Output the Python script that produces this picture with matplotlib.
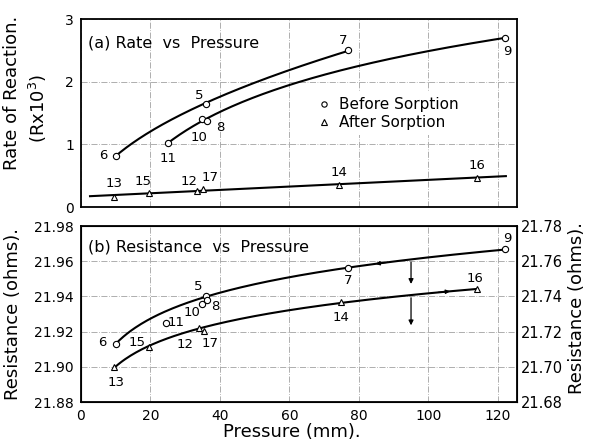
import numpy as np
import matplotlib
matplotlib.use("Agg")
import matplotlib.pyplot as plt

# (a) rate of reaction, R x 10^3
rate_before_p = [10, 36, 77, 25, 34.7, 36.3, 122]
rate_before_r = [0.82, 1.65, 2.50, 1.02, 1.40, 1.38, 2.70]
rate_before_lbl = ["6", "5", "7", "11", "10", "8", "9"]
rate_after_p = [9.6, 19.6, 33.5, 35.2, 74.2, 114]
rate_after_r = [0.16, 0.23, 0.26, 0.29, 0.35, 0.47]
rate_after_lbl = ["13", "15", "12", "17", "14", "16"]

# (b) resistance, ohms
res_before_p = [10, 24.4, 34.9, 35.9, 36.4, 76.9, 122]
res_before_r = [21.913, 21.925, 21.9357, 21.940, 21.938, 21.956, 21.9668]
res_before_lbl = ["6", "11", "10", "5", "8", "7", "9"]
res_after_p = [9.6, 19.6, 34, 35.4, 74.7, 114]
res_after_r = [21.8997, 21.9114, 21.922, 21.9205, 21.9366, 21.944]
res_after_lbl = ["13", "15", "12", "17", "14", "16"]

plt.rcParams['font.family'] = 'DejaVu Sans'
fig = plt.figure(figsize=(5.95, 4.45), dpi=100)
ax1 = fig.add_axes([0.1361, 0.5348, 0.7328, 0.4225])
ax2 = fig.add_axes([0.1361, 0.0966, 0.7328, 0.3955])

grid_kw = dict(color='#999999', lw=0.55, ls=(0, (8, 2, 1, 2)))
for ax in (ax1, ax2):
    ax.set_xlim(0, 125.5)
    ax.set_xticks(range(0, 121, 20))
    ax.grid(True, **grid_kw)
    ax.tick_params(length=0, labelsize=10, pad=5)
    for s in ax.spines.values():
        s.set_linewidth(1.3)

mk_o = dict(marker='o', ms=4.5, mfc='white', mec='black', mew=0.8, ls='none', zorder=4)
mk_t = dict(marker='^', ms=4.5, mfc='white', mec='black', mew=0.8, ls='none', zorder=4)

scales = {'lin': lambda v: v, 'log': np.log, 'sqrt': np.sqrt}


def label_points(ax, xs, ys, names, offs):
    for x, y, n in zip(xs, ys, names):
        dx, dy = offs[n]
        ax.annotate(n, (x, y), xytext=(dx, dy), textcoords='offset pixels',
                    ha='center', va='center', fontsize=9.5)


def fit_curve(ax, xs, ys, lo, hi, deg=1, scale='lin'):
    f = scales[scale]
    c = np.polyfit(f(np.asarray(xs, float)), ys, deg)
    xx = np.linspace(lo, hi, 200)
    ax.plot(xx, np.polyval(c, f(xx)), color='black', lw=1.5, zorder=3)
    return lambda v: float(np.polyval(c, f(v)))


# ---- (a) Rate vs Pressure
ax1.set_ylim(0, 3)
ax1.set_yticks([0, 1, 2, 3])
ax1.tick_params(labelbottom=False)
fit_curve(ax1, rate_before_p[:3], rate_before_r[:3], 10, 77, scale='sqrt')
fit_curve(ax1, rate_before_p[3:], rate_before_r[3:], 25, 122, scale='log')
fit_curve(ax1, rate_after_p, rate_after_r, 2.6, 122.3)
ax1.plot(rate_before_p, rate_before_r, label='Before Sorption', **mk_o)
ax1.plot(rate_after_p, rate_after_r, label='After Sorption', **mk_t)
label_points(ax1, rate_before_p, rate_before_r, rate_before_lbl,
             {"6": (-12, 0), "5": (-7, 8), "7": (-5, 10), "11": (0, -15),
              "10": (-3, -18), "8": (13, -7), "9": (2, -14)})
label_points(ax1, rate_after_p, rate_after_r, rate_after_lbl,
             {"13": (0, 13), "15": (-6, 11), "12": (-8, 9), "17": (7, 11),
              "14": (0, 13), "16": (0, 12)})
ax1.text(0.016, 0.872, "(a) Rate  vs  Pressure", transform=ax1.transAxes,
         fontsize=11.5, va='center')
leg = ax1.legend(loc='upper left', bbox_to_anchor=(0.532, 0.61), fontsize=11,
                 markerscale=0.85, handlelength=0.8, handletextpad=0.6,
                 labelspacing=0.2, borderpad=0.3, framealpha=1,
                 borderaxespad=0)
leg.get_frame().set_edgecolor('none')
fig.text(12 / 595, 1 - 93 / 445, "Rate of Reaction.", rotation=90,
         fontsize=13, ha='center', va='center')
fig.text(38 / 595, 1 - 108 / 445, "(Rx10$^3$)", rotation=90,
         fontsize=13, ha='center', va='center')

# ---- (b) Resistance vs Pressure
ax2.set_ylim(21.88, 21.98)
left_ticks = np.arange(21.88, 21.981, 0.02)
ax2.set_yticks(left_ticks)
ax2.set_yticklabels([f"{v:.2f}" for v in left_ticks])
up = fit_curve(ax2, [10, 35.9, 76.9, 122], [21.913, 21.940, 21.956, 21.9668],
               10, 122, deg=2, scale='log')
dn = fit_curve(ax2, [9.6, 19.6, 34, 74.7, 114],
               [21.8997, 21.9114, 21.922, 21.9366, 21.944], 9.6, 114,
               deg=2, scale='log')
ax2.plot(res_before_p, res_before_r, **mk_o)
ax2.plot(res_after_p, res_after_r, **mk_t)
label_points(ax2, res_before_p, res_before_r, res_before_lbl,
             {"6": (-13, 1), "11": (10, 0), "10": (-10, -9), "5": (-8, 10),
              "8": (8, -7), "7": (0, -12), "9": (2, 11)})
label_points(ax2, res_after_p, res_after_r, res_after_lbl,
             {"13": (2, -15), "15": (-12, 4), "12": (-14, -16), "17": (6, -13),
              "14": (0, -15), "16": (-2, 11)})
ax2.text(0.016, 0.88, "(b) Resistance  vs  Pressure", transform=ax2.transAxes,
         fontsize=11.5, va='center')

# drop arrows and axis-direction flags
arr = dict(arrowstyle='-|>', color='black', lw=0.9, mutation_scale=7)
ax2.annotate("", xy=(95, 21.9455), xytext=(95, up(95)), arrowprops=arr)
ax2.annotate("", xy=(95, 21.922), xytext=(95, dn(95)), arrowprops=arr)
flag = dict(arrowstyle='-|>', color='black', lw=0.9, mutation_scale=6)
ax2.annotate("", xy=(84, up(84)), xytext=(89, up(89)), arrowprops=flag)
ax2.annotate("", xy=(107, dn(107)), xytext=(102, dn(102)), arrowprops=flag)

ax2.set_ylabel("Resistance (ohms).", fontsize=13, va='center')
ax2.yaxis.set_label_coords((13 - 81) / 436, 0.5)
ax2.set_xlabel("Pressure (mm).", fontsize=13, va='center')
ax2.xaxis.set_label_coords((292 - 81) / 436, (402 - 432) / 176)

axr = ax2.twinx()
axr.set_ylim(21.68, 21.78)
right_ticks = np.arange(21.68, 21.781, 0.02)
axr.set_yticks(right_ticks)
axr.set_yticklabels([f"{v:.2f}" for v in right_ticks])
axr.tick_params(length=0, labelsize=10.5, pad=3)
axr.set_ylabel("Resistance (ohms).", fontsize=13, va='center')
axr.yaxis.set_label_coords((577 - 81) / 436, (402 - 308) / 176)

fig.savefig("out.png", dpi=100)
